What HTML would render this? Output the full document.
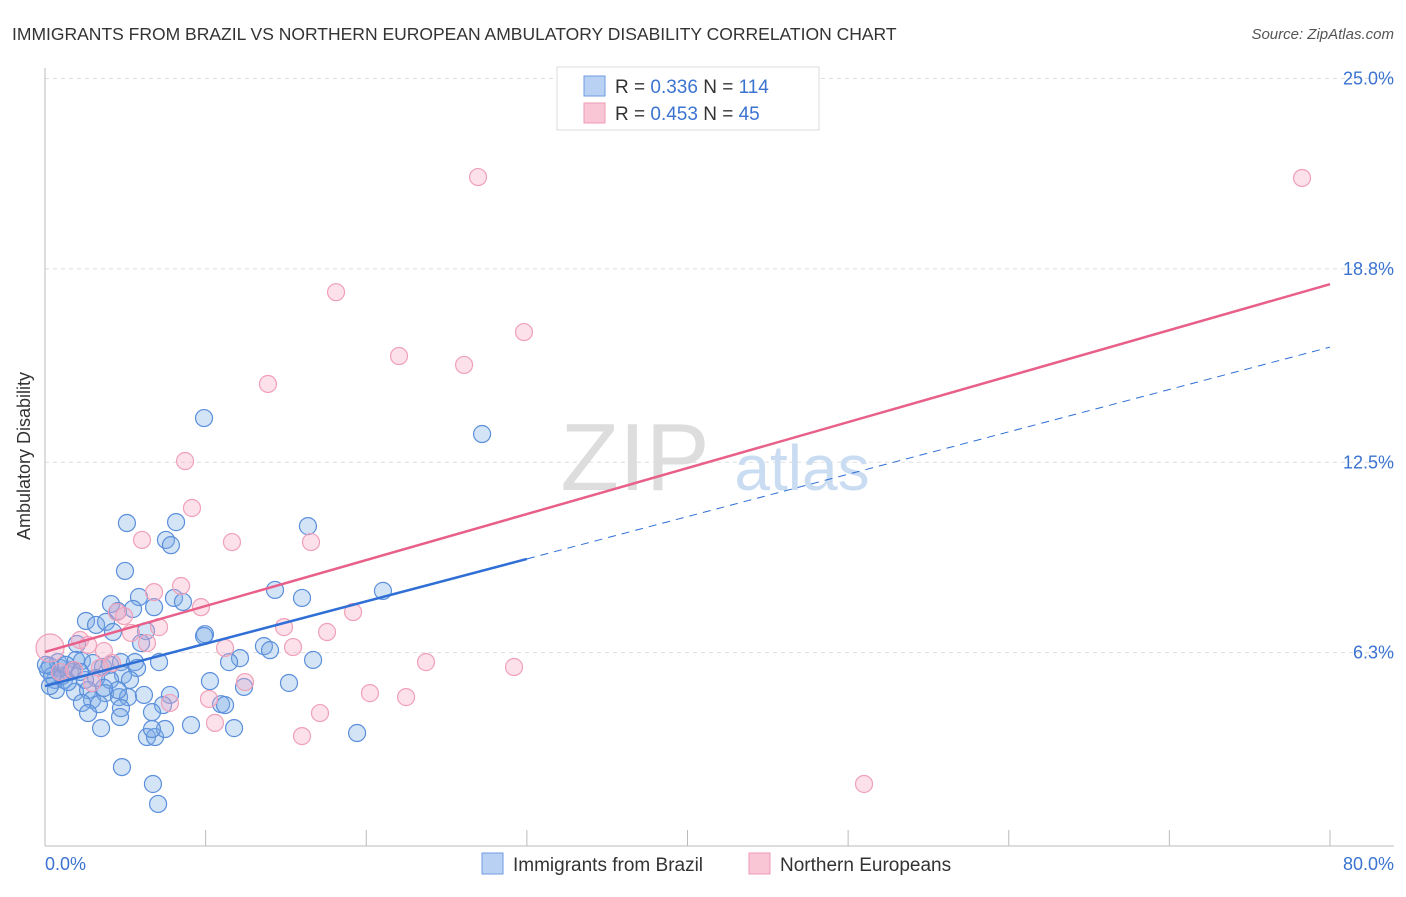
<!DOCTYPE html>
<html><head><meta charset="utf-8"><style>
body{margin:0;background:#fff;font-family:"Liberation Sans",sans-serif;}
svg text{font-family:"Liberation Sans",sans-serif;}
</style></head><body>
<svg id="chart" width="1406" height="892" viewBox="0 0 1406 892">
<text x="12" y="40" font-size="17.5" fill="#333">IMMIGRANTS FROM BRAZIL VS NORTHERN EUROPEAN AMBULATORY DISABILITY CORRELATION CHART</text>
<text x="1394" y="39" font-size="15" fill="#555" font-style="italic" text-anchor="end">Source: ZipAtlas.com</text>
<g id="grid"></g>
<text x="635" y="490" font-size="96" fill="#ddd" font-family="Liberation Serif" text-anchor="middle">ZIP</text>
<text x="802" y="490" font-size="64" fill="#c9dcf2" text-anchor="middle">atlas</text>
<line x1="45" y1="68" x2="45" y2="846" stroke="#bbb"/>
<line x1="45" y1="846" x2="1394" y2="846" stroke="#bbb"/>
<g id="ticks"></g>
<g id="pts"></g>
<g id="lines"></g>
<text x="30" y="456" font-size="18" fill="#333" text-anchor="middle" transform="rotate(-90 30 456)">Ambulatory Disability</text>
<text x="45" y="870" font-size="18" fill="#3b73d1">0.0%</text>
<text x="1394" y="870" font-size="18" fill="#3b73d1" text-anchor="end">80.0%</text>
<g>
<rect x="557" y="67" width="262" height="63" fill="#fff" stroke="#ddd"/>
<rect x="584" y="76" width="21" height="20" fill="#b9d2f3" stroke="#6f9be0"/>
<rect x="584" y="103" width="21" height="20" fill="#f9c6d6" stroke="#ee9ab5"/>
<text x="615" y="93" font-size="19" fill="#333">R = <tspan fill="#3b73d1">0.336</tspan>   N = <tspan fill="#3b73d1">114</tspan></text>
<text x="615" y="120" font-size="19" fill="#333">R = <tspan fill="#3b73d1">0.453</tspan>   N = <tspan fill="#3b73d1"> 45</tspan></text>
</g>
<g>
<rect x="482" y="853" width="21" height="21" fill="#b9d2f3" stroke="#6f9be0"/>
<text x="513" y="871" font-size="19" fill="#333">Immigrants from Brazil</text>
<rect x="749" y="853" width="21" height="21" fill="#f9c6d6" stroke="#ee9ab5"/>
<text x="780" y="871" font-size="19" fill="#333">Northern Europeans</text>
</g>
</svg>
<script>
const yTicks=[6.3,12.5,18.8,25.0];
const xTicks=[0,10,20,30,40,50,60,70,80];
const blueX=[5.1,8.16,16.37,7.53,7.84,4.98,5.85,4.11,6.79,8.03,8.59,14.32,16.0,21.04,9.9,27.21,2.55,3.18,3.8,4.54,5.48,4.23,6.29,5.98,9.96,9.9,13.63,14.01,16.69,12.14,11.46,1.99,1.93,2.3,2.99,3.61,4.05,4.73,5.6,5.73,7.1,4.86,4.05,3.18,2.49,1.56,0.93,0.31,0.62,1.18,0.68,1.87,2.68,2.93,3.74,4.61,5.17,6.16,7.78,7.35,6.66,4.73,4.67,3.36,2.3,2.68,3.49,6.35,6.85,7.47,6.66,9.09,11.77,10.27,10.96,11.21,12.39,15.19,19.43,4.79,6.72,7.04,0.19,0.44,1.06,1.43,1.68,0.81,1.31,2.18,0.06,0.31,5.29,4.54,3.67];
const blueY=[10.52,10.55,10.42,9.97,9.8,8.96,8.11,7.88,7.78,8.08,7.95,8.34,8.08,8.31,13.94,13.42,7.33,7.2,7.3,7.65,7.72,6.97,7.0,6.61,6.9,6.84,6.51,6.38,6.06,6.12,5.99,6.58,6.06,6.03,5.96,5.83,5.9,5.99,5.99,5.8,5.99,5.57,5.41,5.47,5.41,5.67,5.8,5.86,5.41,5.41,5.08,5.02,5.08,4.76,4.98,4.85,4.85,4.92,4.92,4.59,4.36,4.49,4.2,4.62,4.66,4.33,3.84,3.55,3.55,3.81,3.81,3.94,3.84,5.37,4.62,4.59,5.18,5.31,3.68,2.57,2.02,1.37,5.73,5.54,5.54,5.34,5.73,5.99,5.9,5.67,5.9,5.21,5.41,5.08,5.15];
const pinkX=[26.96,78.26,18.12,29.82,22.04,26.09,13.88,8.72,9.15,6.04,11.64,16.56,6.79,8.47,9.71,4.48,4.92,7.1,14.88,19.18,17.56,6.35,5.35,11.21,15.44,23.72,29.2,4.17,3.67,2.18,2.68,12.45,10.21,7.78,20.23,22.48,10.58,17.12,16.0,50.99,0.31,0.93,1.81,2.93,3.42];
const pinkY=[21.79,21.76,18.04,16.74,15.96,15.67,15.05,12.54,11.01,9.97,9.9,9.9,8.27,8.47,7.78,7.62,7.49,7.13,7.13,7.62,6.97,6.61,6.94,6.45,6.48,5.99,5.83,5.96,6.35,6.71,6.55,5.34,4.79,4.66,4.98,4.85,4.01,4.33,3.58,2.02,6.45,5.67,5.73,5.31,5.8];
const blueTrend=[5.21,16.25];
const pinkTrend=[6.32,18.3];
const NS="http://www.w3.org/2000/svg";
const X=v=>45+v/80*1285;
const Y=v=>846-v*30.7;
function mk(tag,attrs,parent){const e=document.createElementNS(NS,tag);for(const k in attrs)e.setAttribute(k,attrs[k]);parent.appendChild(e);return e;}
const grid=document.getElementById('grid');
yTicks.forEach(t=>{
 const l=mk('line',{x1:45,x2:1394,y1:Y(t),y2:Y(t),stroke:'#ddd','stroke-dasharray':'4,4'},grid);
 
 
 const tx=mk('text',{x:1394,y:Y(t)+6,'font-size':18,fill:'#3b73d1','text-anchor':'end'},grid);
 tx.textContent=(t===25?'25.0':t.toFixed(1))+'%';
 
 
});
const ticks=document.getElementById('ticks');
xTicks.forEach(t=>{
 const l=mk('line',{x1:X(t),x2:X(t),y1:830,y2:846,stroke:'#bbb'},ticks);
 
 
});
const pts=document.getElementById('pts');
blueX.forEach((v,i)=>{
 const c=mk('circle',{cx:X(v),cy:Y(blueY[i]),r:8.5,fill:'rgba(120,170,230,0.32)',stroke:'#5b8fdb','stroke-width':1.2},pts);
 
 
});
pinkX.forEach((v,i)=>{
 const c=mk('circle',{cx:X(v),cy:Y(pinkY[i]),r:i===40?14:8.5,fill:'rgba(245,170,195,0.35)',stroke:'#f0a0b8','stroke-width':1.2},pts);
 
 
});
const lines=document.getElementById('lines');
const bAt=x=>blueTrend[0]+(blueTrend[1]-blueTrend[0])*x/80;
const pAt=x=>pinkTrend[0]+(pinkTrend[1]-pinkTrend[0])*x/80;
let l1=mk('line',{x1:X(0),y1:Y(bAt(0)),x2:X(30),y2:Y(bAt(30)),stroke:'#2f6fd6','stroke-width':2.5},lines);


let l2=mk('line',{x1:X(30),y1:Y(bAt(30)),x2:X(80),y2:Y(bAt(80)),stroke:'#2f6fd6','stroke-width':1,'stroke-dasharray':'8,6'},lines);


let l3=mk('line',{x1:X(0),y1:Y(pAt(0)),x2:X(80),y2:Y(pAt(80)),stroke:'#e8608a','stroke-width':2.5},lines);


</script>
</body></html>
